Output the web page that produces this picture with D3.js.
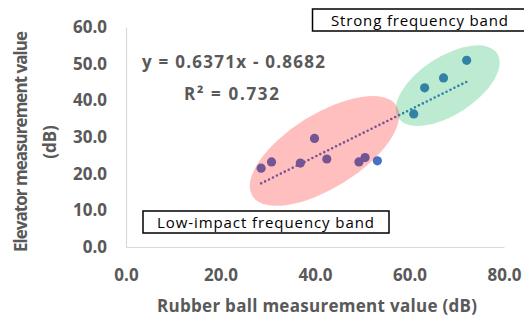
<!DOCTYPE html>
<html>
<head>
<meta charset="utf-8">
<script src="https://cdn.jsdelivr.net/npm/d3@7/dist/d3.min.js"></script>
<style>
  html, body { margin: 0; padding: 0; background: #fff; }
  svg { display: block; }
  text { font-family: "Open Sans", "Noto Sans", sans-serif; }
</style>
</head>
<body>
<svg id="chart" width="524" height="320"></svg>
<script>
// ---- data ----
const rubberBall = [28.6, 30.8, 39.9, 36.9, 42.5, 49.3, 50.6, 53.2, 60.9, 63.2, 67.2, 72.1];
const elevator   = [21.5, 23.2, 29.6, 22.9, 24.0, 23.2, 24.4, 23.5, 36.3, 43.4, 46.1, 50.9];
const xTicks = [0, 20, 40, 60, 80];
const yTicks = [0, 10, 20, 30, 40, 50, 60];
const trendSlope = [0.6371];
const trendIntercept = [-0.8682];
const equationLabels = ["y = 0.6371x - 0.8682", "R² = 0.732"];
const bandLabels = ["Strong frequency band", "Low-impact frequency band"];
const xTitle = "Rubber ball measurement value (dB)";
const yTitleLines = ["Elevator measurement value", "(dB)"];
// band ellipse centres (data units)
const bandCenterX = [68.1, 42.0];
const bandCenterY = [44.0, 26.2];

// ---- layout ----
const svg = d3.select("#chart");
const x = d3.scaleLinear().domain([0, 80]).range([126, 504]);
const y = d3.scaleLinear().domain([0, 60]).range([247, 27]);
const textColor = "#595959";
const pointColor = "#4472C4";

// axes
const xAxis = svg.append("g").attr("transform", `translate(0,${y(0)})`)
  .call(d3.axisBottom(x).tickValues(xTicks).tickFormat(d3.format(".1f")).tickSize(0).tickSizeOuter(0).tickPadding(22));
const yAxis = svg.append("g").attr("transform", `translate(${x(0)},0)`)
  .call(d3.axisLeft(y).tickValues(yTicks).tickFormat(d3.format(".1f")).tickSize(0).tickSizeOuter(0).tickPadding(19));
[xAxis, yAxis].forEach(g => {
  g.select(".domain").attr("stroke", "#d9d9d9").attr("stroke-width", 1.2);
  g.selectAll(".tick text").attr("fill", textColor).attr("font-size", 17).attr("font-weight", 700)
    .style("font-family", '"Open Sans", sans-serif');
});

// trendline
const tx0 = d3.min(rubberBall), tx1 = d3.max(rubberBall);
svg.append("line")
  .attr("x1", x(tx0)).attr("y1", y(trendSlope[0] * tx0 + trendIntercept[0]))
  .attr("x2", x(tx1)).attr("y2", y(trendSlope[0] * tx1 + trendIntercept[0]))
  .attr("stroke", pointColor).attr("stroke-width", 2.6)
  .attr("stroke-linecap", "round").attr("stroke-dasharray", "0 4.4");

// points
svg.append("g").selectAll("circle").data(rubberBall).join("circle")
  .attr("cx", (d) => x(d)).attr("cy", (d, i) => y(elevator[i]))
  .attr("r", 4.6).attr("fill", pointColor);

// band ellipses (translucent overlays)
const ellipseStyle = [
  { rx: 59, ry: 29, rot: -33, fill: "rgba(0,176,80,0.26)" },
  { rx: 85, ry: 37, rot: -32, fill: "rgba(255,0,0,0.25)" }
];
svg.append("g").selectAll("ellipse").data(bandCenterX).join("ellipse")
  .attr("transform", (d, i) => `translate(${x(d)},${y(bandCenterY[i])}) rotate(${ellipseStyle[i].rot})`)
  .attr("rx", (d, i) => ellipseStyle[i].rx).attr("ry", (d, i) => ellipseStyle[i].ry)
  .attr("fill", (d, i) => ellipseStyle[i].fill);

// equation labels
svg.append("text").attr("x", 142).attr("y", 68).attr("fill", textColor)
  .attr("font-size", 17).attr("font-weight", 700)
  .attr("textLength", 183).attr("lengthAdjust", "spacing").text(equationLabels[0]);
svg.append("text").attr("x", 184).attr("y", 100).attr("fill", textColor)
  .attr("font-size", 17).attr("font-weight", 700)
  .attr("textLength", 95).attr("lengthAdjust", "spacing").text(equationLabels[1]);

// band boxes
const boxes = [
  { x: 312.5, y: 9, w: 214, h: 22, tx: 331, ty: 25.5, tl: 177 },
  { x: 143, y: 211, w: 246, h: 22, tx: 157, ty: 227.5, tl: 217 }
];
boxes.forEach((b, i) => {
  svg.append("rect").attr("x", b.x).attr("y", b.y).attr("width", b.w).attr("height", b.h)
    .attr("fill", "#fff").attr("stroke", "#000").attr("stroke-width", 1.5);
  svg.append("text").attr("x", b.tx).attr("y", b.ty).attr("fill", "#000")
    .attr("font-size", 15).attr("textLength", b.tl).attr("lengthAdjust", "spacing").text(bandLabels[i]);
});

// axis titles
svg.append("text").attr("x", 157).attr("y", 312)
  .attr("fill", textColor).attr("font-size", 17).attr("font-weight", 700)
  .attr("textLength", 320).attr("lengthAdjust", "spacing").text(xTitle);
const yt = svg.append("g").attr("transform", "translate(0,142) rotate(-90)");
yt.append("text").attr("x", -110).attr("y", 27).attr("fill", textColor)
  .attr("font-size", 17).attr("font-weight", 700)
  .attr("textLength", 221).attr("lengthAdjust", "spacing").text(yTitleLines[0]);
yt.append("text").attr("x", 0).attr("y", 56).attr("text-anchor", "middle").attr("fill", textColor)
  .attr("font-size", 17).attr("font-weight", 700).text(yTitleLines[1]);
</script>
</body>
</html>
